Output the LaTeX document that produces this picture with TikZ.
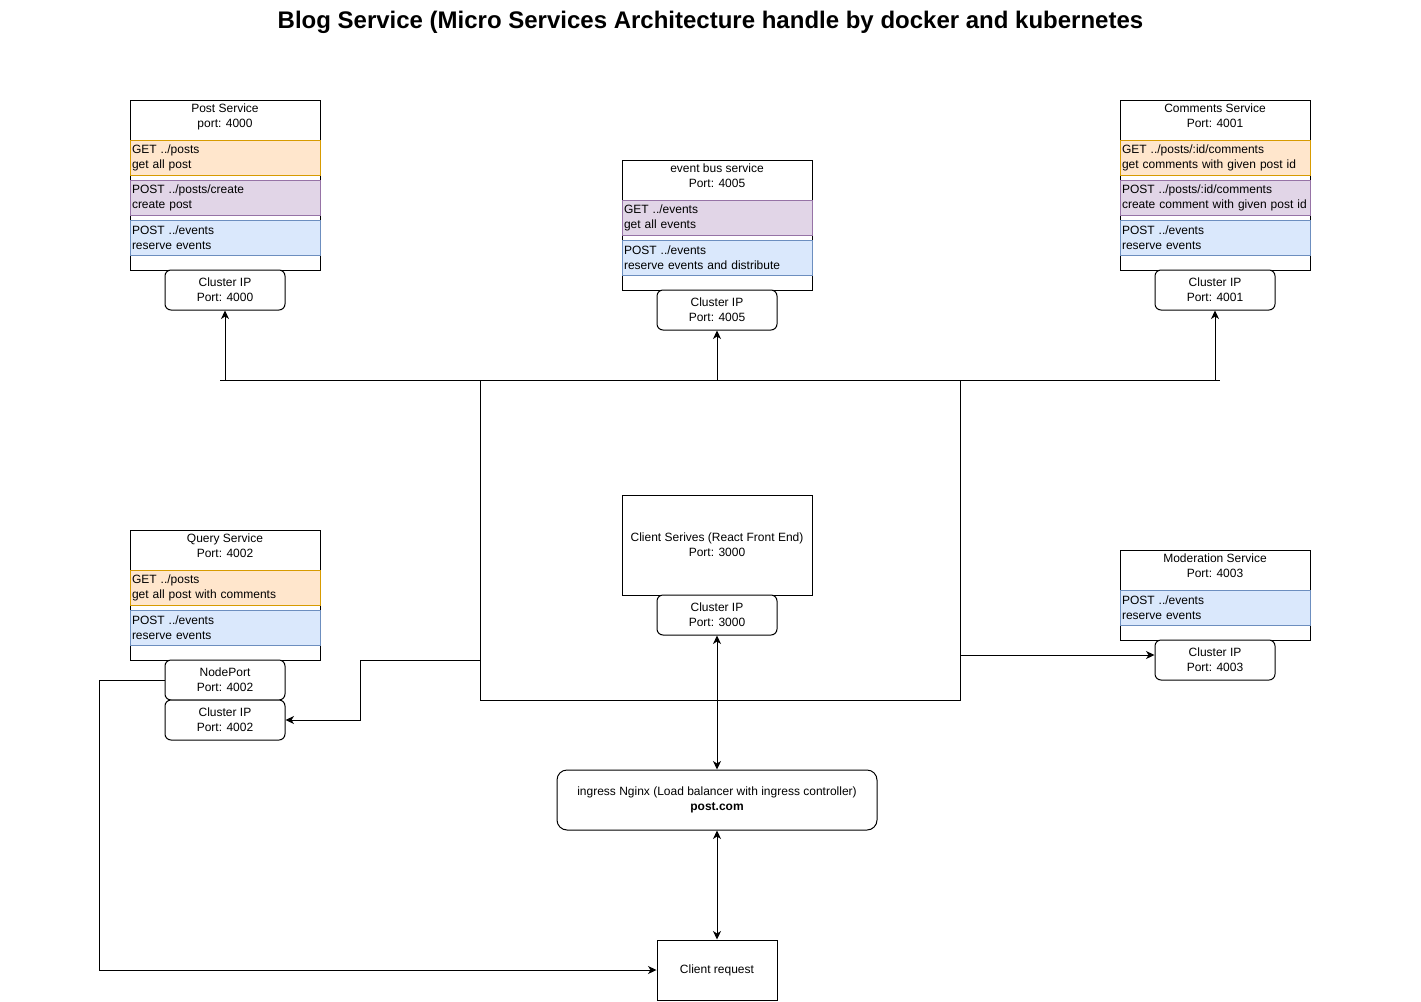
\documentclass[tikz,border=0pt]{standalone}
\usepackage{fontspec}
\setmainfont{Liberation Sans}
\usetikzlibrary{arrows.meta}
\definecolor{orfill}{HTML}{FFE6CC}
\definecolor{orline}{HTML}{D79B00}
\definecolor{pufill}{HTML}{E1D5E7}
\definecolor{puline}{HTML}{9673A6}
\definecolor{blfill}{HTML}{DAE8FC}
\definecolor{blline}{HTML}{6C8EBF}
\tikzset{
  base/.style={font=\fontsize{12}{15}\selectfont, inner sep=0pt, text=black},
  container/.style={base, draw=black, fill=white, rectangle, minimum width=190pt, minimum height=#1},
  hdr/.style={base, anchor=north, align=center},
  rowbox/.style={base, rectangle, minimum height=35pt, text width=186pt, inner xsep=2pt, align=left},
  orrow/.style={rowbox, draw=orline, fill=orfill},
  purow/.style={rowbox, draw=puline, fill=pufill},
  blrow/.style={rowbox, draw=blline, fill=blfill},
  cip/.style={base, draw=black, fill=white, rounded corners=6pt, minimum width=120pt, minimum height=40pt, align=center},
  plainbox/.style={base, draw=black, fill=white, rectangle, align=center},
  tip/.tip={Stealth[length=8.5pt,width=8pt,inset=2.5pt]},
  arr/.style={-tip},
  darr/.style={tip-tip},
}
\begin{document}
\begin{tikzpicture}[x=1pt,y=-1pt,line width=1pt]
\useasboundingbox[fill=white] (0,0) rectangle (1421,1001);

% title
\node[base, anchor=base, font=\fontsize{24}{28}\selectfont\bfseries] (title) at (710.5,28) {Blog Service (Micro Services Architecture handle by docker and kubernetes};

% cluster rectangle
\node[draw=black, rectangle, minimum width=480pt, minimum height=320pt, inner sep=0pt] (cluster) at (720,540) {};

% Post service
\node[container=170pt] (post) at (225,185) {};
\node[hdr] (postT) at (225,103) {Post Service\\port: 4000};
\node[orrow] (postR1) at (225,157.5) {GET ../posts\\get all post};
\node[purow] (postR2) at (225,197.5) {POST ../posts/create\\create post};
\node[blrow] (postR3) at (225,237.5) {POST ../events\\reserve events};
\node[cip] (postCIP) at (225,290) {Cluster IP\\Port: 4000};

% Event bus
\node[container=130pt] (bus) at (717,225) {};
\node[hdr] (busT) at (717,163) {event bus service\\Port: 4005};
\node[purow] (busR1) at (717,217.5) {GET ../events\\get all events};
\node[blrow] (busR2) at (717,257.5) {POST ../events\\reserve events and distribute};
\node[cip] (busCIP) at (717,310) {Cluster IP\\Port: 4005};

% Comments service
\node[container=170pt] (comm) at (1215,185) {};
\node[hdr] (commT) at (1215,103) {Comments Service\\Port: 4001};
\node[orrow] (commR1) at (1215,157.5) {GET ../posts/:id/comments\\get comments with given post id};
\node[purow] (commR2) at (1215,197.5) {POST ../posts/:id/comments\\create comment with given post id};
\node[blrow] (commR3) at (1215,237.5) {POST ../events\\reserve events};
\node[cip] (commCIP) at (1215,290) {Cluster IP\\Port: 4001};

% Query service
\node[container=130pt] (query) at (225,595) {};
\node[hdr] (queryT) at (225,533) {Query Service\\Port: 4002};
\node[orrow] (queryR1) at (225,587.5) {GET ../posts\\get all post with comments};
\node[blrow] (queryR2) at (225,627.5) {POST ../events\\reserve events};
\node[cip] (nodeport) at (225,680) {NodePort\\Port: 4002};
\node[cip] (queryCIP) at (225,720) {Cluster IP\\Port: 4002};

% Client service
\node[plainbox, minimum width=190pt, minimum height=100pt] (client) at (717,545) {Client Serives (React Front End)\\Port: 3000};
\node[cip] (clientCIP) at (717,615) {Cluster IP\\Port: 3000};

% Moderation service
\node[container=90pt] (mod) at (1215,595) {};
\node[hdr] (modT) at (1215,553) {Moderation Service\\Port: 4003};
\node[blrow] (modR1) at (1215,607.5) {POST ../events\\reserve events};
\node[cip] (modCIP) at (1215,660) {Cluster IP\\Port: 4003};

% Ingress and client request
\node[base, draw=black, fill=white, rounded corners=10pt, minimum width=320pt, minimum height=60pt, align=center] (ingress) at (717,800) {ingress Nginx (Load balancer with ingress controller)\\\textbf{post.com}};
\node[plainbox, minimum width=120pt, minimum height=60pt] (creq) at (717,970) {Client request};

% event bus line
\coordinate (busL) at (220,380);
\coordinate (busR) at (1220,380);
\draw (busL) -- (busR);
\draw[arr] (postCIP.south |- busL) -- (postCIP.south);
\draw[arr] (busCIP.south |- busL) -- (busCIP.south);
\draw[arr] (commCIP.south |- busL) -- (commCIP.south);

% cluster to query
\coordinate (qa) at (480,660);
\draw[arr] (qa) -- ++(-120,0) |- (queryCIP.east);

% cluster to moderation
\coordinate (ma) at (960,655);
\draw[arr] (ma) -- (ma -| modCIP.west);

% client <-> ingress <-> request
\draw[darr] (clientCIP.south) -- (ingress.north);
\draw[darr] (ingress.south) -- (creq.north);

% nodeport to client request
\draw[arr] (nodeport.west) -- ++(-65,0) |- (creq.west);
\end{tikzpicture}
\end{document}
